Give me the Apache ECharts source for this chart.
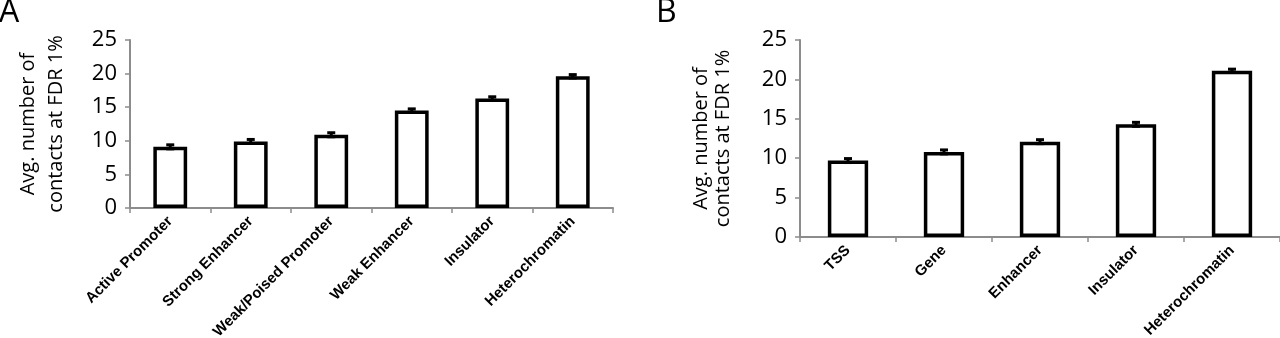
<!DOCTYPE html>
<html>
<head>
<meta charset="utf-8">
<script src="https://cdn.jsdelivr.net/npm/echarts@6/dist/echarts.min.js"></script>
<style>
  html, body { margin: 0; padding: 0; background: #fff; }
  #chart { width: 1280px; height: 338px; }
</style>
</head>
<body>
<div id="chart"></div>
<script>
  // panel A: chromatin states
  const catsA = ['Active Promoter', 'Strong Enhancer', 'Weak/Poised Promoter', 'Weak Enhancer', 'Insulator', 'Heterochromatin'];
  const valsA = [9.1, 9.9, 10.9, 14.5, 16.3, 19.6];
  const errA = [0.3, 0.3, 0.3, 0.25, 0.25, 0.25];

  // panel B: segmentation classes
  const catsB = ['TSS', 'Gene', 'Enhancer', 'Insulator', 'Heterochromatin'];
  const valsB = [9.7, 10.8, 12.1, 14.3, 21.1];
  const errB = [0.25, 0.25, 0.25, 0.25, 0.2];

  const yTicks = [0, 5, 10, 15, 20, 25];
  const yName = 'Avg. number of\ncontacts at FDR 1%';

  const grey = '#8c8c8c';
  const sans = '"Open Sans", "DejaVu Sans", sans-serif';

  function xAxis(idx, cats, fontSize) {
    return {
      type: 'category', gridIndex: idx, data: cats,
      axisLine: { lineStyle: { color: grey, width: 2 } },
      axisTick: { show: true, length: 5, lineStyle: { color: grey, width: 1.5 } },
      axisLabel: {
        rotate: 45, interval: 0, margin: 11, color: '#000',
        fontFamily: '"Liberation Sans", Arial, sans-serif', fontWeight: 'bold', fontSize: fontSize
      }
    };
  }

  function yAxis(idx, gap, lh) {
    return {
      type: 'value', gridIndex: idx, min: yTicks[0], max: yTicks[yTicks.length - 1], interval: 5,
      name: yName, nameLocation: 'middle', nameGap: gap,
      nameTextStyle: { color: '#000', fontFamily: sans, fontSize: 20, lineHeight: lh, align: 'center' },
      axisLine: { show: true, lineStyle: { color: grey, width: 2 } },
      axisTick: { show: true, length: 5, lineStyle: { color: grey, width: 1.5 } },
      axisLabel: { color: '#000', fontFamily: sans, fontSize: 22, margin: 13 },
      splitLine: { show: false }
    };
  }

  function barSeries(idx, vals) {
    return {
      type: 'bar', xAxisIndex: idx, yAxisIndex: idx, data: vals, barWidth: '42%',
      itemStyle: { color: '#fff', borderColor: '#000', borderWidth: 3.5 },
      silent: true
    };
  }

  function errSeries(idx, vals, errs) {
    return {
      type: 'custom', xAxisIndex: idx, yAxisIndex: idx, z: 5,
      data: vals.map((v, i) => [i, v, errs[i]]),
      renderItem: function (params, api) {
        const i = api.value(0), v = api.value(1), e = api.value(2);
        const hi = api.coord([i, v + e]);
        const lo = api.coord([i, v - e]);
        const w = 4;
        const st = { stroke: '#000', lineWidth: 3 };
        return {
          type: 'group',
          children: [
            { type: 'line', shape: { x1: hi[0], y1: hi[1], x2: lo[0], y2: lo[1] }, style: st },
            { type: 'line', shape: { x1: hi[0] - w, y1: hi[1], x2: hi[0] + w, y2: hi[1] }, style: st },
            { type: 'line', shape: { x1: lo[0] - w, y1: lo[1], x2: lo[0] + w, y2: lo[1] }, style: st }
          ]
        };
      }
    };
  }

  const chart = echarts.init(document.getElementById('chart'));
  chart.setOption({
    animation: false,
    backgroundColor: '#fff',
    graphic: [
      { type: 'text', left: -1, top: -3, style: { text: 'A', font: '32px "Open Sans", sans-serif', fill: '#000' } },
      { type: 'text', left: 656, top: -3, style: { text: 'B', font: '32px "Open Sans", sans-serif', fill: '#000' } }
    ],
    grid: [
      { left: 130, top: 40, width: 483, height: 168, outerBoundsMode: 'none' },
      { left: 800, top: 40, width: 480, height: 197, outerBoundsMode: 'none' }
    ],
    xAxis: [xAxis(0, catsA, 15), xAxis(1, catsB, 15)],
    yAxis: [yAxis(0, 60, 28), yAxis(1, 66, 22)],
    series: [
      barSeries(0, valsA), errSeries(0, valsA, errA),
      barSeries(1, valsB), errSeries(1, valsB, errB)
    ]
  });
  window.addEventListener('resize', () => chart.resize());
</script>
</body>
</html>
